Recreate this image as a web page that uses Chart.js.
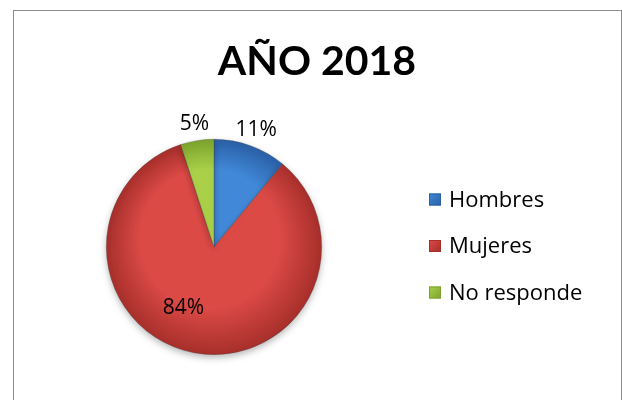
<!DOCTYPE html>
<html>
<head>
<meta charset="utf-8">
<script src="https://cdn.jsdelivr.net/npm/chart.js@4.4.0/dist/chart.umd.min.js"></script>
<style>
  html, body { margin: 0; padding: 0; background: #fff; }
  #wrap { position: relative; width: 622px; height: 400px; overflow: hidden; }
  #frame { position: absolute; left: 13px; top: 10px; width: 609px; height: 420px;
           border: 1px solid #8c8c8c; box-sizing: border-box; }
  #myChart { position: absolute; left: 0; top: 0; }
</style>
</head>
<body>
<div id="wrap">
  <div id="frame"></div>
  <canvas id="myChart" width="622" height="400"></canvas>
</div>
<script>
// data
var titleText = "AÑO 2018";
var labels = ["Hombres", "Mujeres", "No responde"];
var values = [11, 84, 5];

// colours (light, dark) per slice
var lightCols = ["#4189d8", "#dc4a46", "#a9d048"];
var darkCols  = ["#2a5fa6", "#a72f2b", "#7ca32c"];

var FONT = "'Open Sans', sans-serif";

function sliceFill(ctx){
  var chart = ctx.chart;
  var area = chart.chartArea;
  if(!area) return lightCols[ctx.dataIndex];
  var cx = (area.left + area.right) / 2, cy = (area.top + area.bottom) / 2;
  var r = Math.min(area.right - area.left, area.bottom - area.top) / 2;
  var g = chart.ctx.createRadialGradient(cx - r*0.1, cy - r*0.2, r*0.1, cx, cy, r);
  g.addColorStop(0, lightCols[ctx.dataIndex]);
  g.addColorStop(0.6, lightCols[ctx.dataIndex]);
  g.addColorStop(1, darkCols[ctx.dataIndex]);
  return g;
}

// percentage labels: small slices go outside, the big one inside
var labelPlugin = {
  id: "pctLabels",
  afterDatasetsDraw: function(chart){
    var c = chart.ctx;
    var meta = chart.getDatasetMeta(0);
    var total = values.reduce(function(a,b){return a+b;}, 0);
    c.save();
    c.font = "21px " + FONT;
    c.fillStyle = "#000";
    c.textAlign = "center";
    c.textBaseline = "middle";
    meta.data.forEach(function(arc, i){
      var p = arc.getProps(["x","y","startAngle","endAngle","outerRadius"], true);
      var mid = (p.startAngle + p.endAngle) / 2;
      var rr, shift = 0;
      if(values[i] / total < 0.2){ rr = p.outerRadius + 17; }
      else { rr = p.outerRadius * 0.63; shift = 0.28; }
      var a = mid + shift;
      var txt = Math.round(values[i] / total * 100) + "%";
      c.fillText(txt, p.x + Math.cos(a) * rr, p.y + Math.sin(a) * rr);
    });
    c.restore();
  }
};

// title and legend drawn to match the office-style layout
var decoPlugin = {
  id: "deco",
  afterDraw: function(chart){
    var c = chart.ctx;
    c.save();
    c.fillStyle = "#000";
    c.font = "bold 41px Lato, " + FONT;
    c.textAlign = "center";
    c.textBaseline = "middle";
    c.fillText(titleText, 317, 62);

    c.font = "22px " + FONT;
    c.textAlign = "left";
    for(var i=0;i<labels.length;i++){
      var y = 199.5 + i*46.5;
      var x = 429, s = 12;
      var g = c.createLinearGradient(x, y - s/2, x + s, y + s/2);
      g.addColorStop(0, lightCols[i]);
      g.addColorStop(1, darkCols[i]);
      c.fillStyle = g;
      c.fillRect(x, y - s/2, s, s);
      c.strokeStyle = darkCols[i];
      c.lineWidth = 1;
      c.strokeRect(x + 0.5, y - s/2 + 0.5, s - 1, s - 1);
      c.fillStyle = "#000";
      c.fillText(labels[i], x + s + 8, y + 1);
    }
    c.restore();
  }
};

var shadowPlugin = {
  id: "shadow",
  beforeDatasetsDraw: function(chart){
    var c = chart.ctx;
    c.save();
    c.shadowColor = "rgba(0,0,0,0.28)";
    c.shadowBlur = 7;
    c.shadowOffsetY = 3;
  },
  afterDatasetsDraw: function(chart){
    chart.ctx.restore();
  }
};

var ctx = document.getElementById("myChart").getContext("2d");
var chart = new Chart(ctx, {
  type: "pie",
  data: {
    labels: labels,
    datasets: [{
      data: values,
      backgroundColor: sliceFill,
      borderColor: "rgba(60,60,60,0.5)",
      borderWidth: 0.6
    }]
  },
  options: {
    responsive: false,
    animation: false,
    layout: { padding: { left: 106, right: 300, top: 139, bottom: 45 } },
    plugins: {
      legend: { display: false },
      title: { display: false },
      tooltip: { enabled: false }
    }
  },
  plugins: [shadowPlugin, labelPlugin, decoPlugin]
});
</script>
</body>
</html>
